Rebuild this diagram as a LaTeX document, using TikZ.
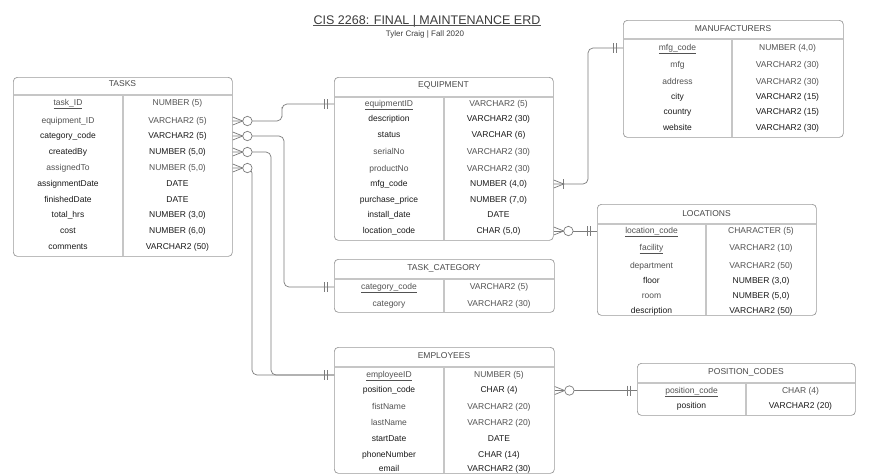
\documentclass[tikz,border=0pt]{standalone}
\usepackage{fontspec}
\setmainfont{Liberation Sans}
\definecolor{inkA}{HTML}{1A1A1A}
\definecolor{inkB}{HTML}{525252}
\definecolor{rim}{HTML}{9A9A9A}
\definecolor{wire}{HTML}{7C7C7C}
\definecolor{rulegray}{HTML}{C6C6C6}
\tikzset{
  tbl/.style={draw=rim, line width=0.7pt, rounded corners=4pt, anchor=north west, inner sep=0pt},
  tblrule/.style={draw=rulegray, line width=1.2pt},
  fld/.style={text=inkA, font=\fontsize{8.5}{10}\selectfont, inner sep=0pt, text height=6pt, text depth=2pt},
  pale/.style={text=inkB},
  hdr/.style={fld, text=inkA!80},
  rel/.style={draw=wire, line width=0.7pt, rounded corners=5pt},
  zeromany/.pic={
    \draw[rel, sharp corners] (0,-4) -- (10,0) -- (0,4);
    \draw[rel, fill=white] (14.7,0) circle (4.7pt);},
  onemany/.pic={
    \draw[rel, sharp corners] (0,-4) -- (10,0) -- (0,4);
    \draw[rel] (10,-5) -- (10,5);},
  onlyone/.pic={
    \draw[rel] (-7,-5) -- (-7,5);
    \draw[rel] (-10,-5) -- (-10,5);}
}
\begin{document}
\begin{tikzpicture}[x=1pt,y=-1pt]
        \fill[white] (0,0) rectangle (885,475);
        \useasboundingbox (0,0) rectangle (885,475);
        %Title
        \node[text=inkA!85, font=\fontsize{12.5}{14}\selectfont, inner sep=0pt, text height=9pt, text depth=1pt] (title) at (427,20.5) {CIS 2268: FINAL | MAINTENANCE ERD};
        \draw[inkA!75, line width=0.6pt] (title.south west) -- (title.south east);
        \node[text=inkA!85, font=\fontsize{8}{10}\selectfont, inner sep=0pt] (byline) at (425,34) {Tyler Craig | Fall 2020};
        %Tasks
        \node[tbl, minimum width=219pt, minimum height=179pt] (tasks) at (13,77) {};
        \draw[tblrule] (13.5,95) -- (231.5,95);
        \draw[tblrule] (123,95) -- (123,255.5);
        \node[hdr] (tasksH) at (122.5,84.5) {TASKS};
        \node[fld,pale] (tId) at (68,103) {\underline{task\_ID}};
        \node[fld,pale] (tIdT) at (177.5,103) {NUMBER (5)};
        \node[fld,pale] (tEquip) at (68,121) {equipment\_ID};
        \node[fld,pale] (tEquipT) at (177.5,121) {VARCHAR2 (5)};
        \node[fld] (tCat) at (68,136) {category\_code};
        \node[fld] (tCatT) at (177.5,136) {VARCHAR2 (5)};
        \node[fld] (tBy) at (68,152) {createdBy};
        \node[fld] (tByT) at (177.5,152) {NUMBER (5,0)};
        \node[fld,pale] (tTo) at (68,168) {assignedTo};
        \node[fld,pale] (tToT) at (177.5,168) {NUMBER (5,0)};
        \node[fld] (tAsg) at (68,184) {assignmentDate};
        \node[fld] (tAsgT) at (177.5,184) {DATE};
        \node[fld] (tFin) at (68,200) {finishedDate};
        \node[fld] (tFinT) at (177.5,200) {DATE};
        \node[fld] (tHrs) at (68,215.5) {total\_hrs};
        \node[fld] (tHrsT) at (177.5,215.5) {NUMBER (3,0)};
        \node[fld] (tCost) at (68,231.5) {cost};
        \node[fld] (tCostT) at (177.5,231.5) {NUMBER (6,0)};
        \node[fld] (tCmt) at (68,247) {comments};
        \node[fld] (tCmtT) at (177.5,247) {VARCHAR2 (50)};
        %Equipment
        \node[tbl, minimum width=219pt, minimum height=163pt] (equip) at (334,77) {};
        \draw[tblrule] (334.5,97) -- (552.5,97);
        \draw[tblrule] (444,97) -- (444,239.5);
        \node[hdr] (equipH) at (443.5,85) {EQUIPMENT};
        \node[fld,pale] (eId) at (389,104) {\underline{equipmentID}};
        \node[fld,pale] (eIdT) at (498.5,104) {VARCHAR2 (5)};
        \node[fld] (eDesc) at (389,119) {description};
        \node[fld] (eDescT) at (498.5,119) {VARCHAR2 (30)};
        \node[fld] (eStat) at (389,135) {status};
        \node[fld] (eStatT) at (498.5,135) {VARCHAR (6)};
        \node[fld,pale] (eSer) at (389,152) {serialNo};
        \node[fld,pale] (eSerT) at (498.5,152) {VARCHAR2 (30)};
        \node[fld,pale] (eProd) at (389,169) {productNo};
        \node[fld,pale] (eProdT) at (498.5,169) {VARCHAR2 (30)};
        \node[fld] (eMfg) at (389,184) {mfg\_code};
        \node[fld] (eMfgT) at (498.5,184) {NUMBER (4,0)};
        \node[fld] (ePrice) at (389,200) {purchase\_price};
        \node[fld] (ePriceT) at (498.5,200) {NUMBER (7,0)};
        \node[fld] (eInst) at (389,215) {install\_date};
        \node[fld] (eInstT) at (498.5,215) {DATE};
        \node[fld] (eLoc) at (389,231) {location\_code};
        \node[fld] (eLocT) at (498.5,231) {CHAR (5,0)};
        %Manufacturers
        \node[tbl, minimum width=220pt, minimum height=117pt] (manuf) at (623,20) {};
        \draw[tblrule] (623.5,39) -- (842.5,39);
        \draw[tblrule] (732,39) -- (732,136.5);
        \node[hdr] (manufH) at (733,29) {MANUFACTURERS};
        \node[fld,pale] (fCode) at (677.5,48) {\underline{mfg\_code}};
        \node[fld,pale] (fCodeT) at (787.5,48) {NUMBER (4,0)};
        \node[fld,pale] (fName) at (677.5,65.5) {mfg};
        \node[fld,pale] (fNameT) at (787.5,65.5) {VARCHAR2 (30)};
        \node[fld,pale] (fAddr) at (677.5,82) {address};
        \node[fld,pale] (fAddrT) at (787.5,82) {VARCHAR2 (30)};
        \node[fld] (fCity) at (677.5,97) {city};
        \node[fld] (fCityT) at (787.5,97) {VARCHAR2 (15)};
        \node[fld] (fCtry) at (677.5,112) {country};
        \node[fld] (fCtryT) at (787.5,112) {VARCHAR2 (15)};
        \node[fld] (fWeb) at (677.5,128) {website};
        \node[fld] (fWebT) at (787.5,128) {VARCHAR2 (30)};
        %Locations
        \node[tbl, minimum width=219pt, minimum height=111pt] (locs) at (597,204) {};
        \draw[tblrule] (597.5,224) -- (815.5,224);
        \draw[tblrule] (706,224) -- (706,314.5);
        \node[hdr] (locsH) at (706.5,214) {LOCATIONS};
        \node[fld,pale] (lCode) at (651.5,231) {\underline{location\_code}};
        \node[fld,pale] (lCodeT) at (761,231) {CHARACTER (5)};
        \node[fld,pale] (lFac) at (651.5,248.5) {\underline{facility}};
        \node[fld,pale] (lFacT) at (761,248.5) {VARCHAR2 (10)};
        \node[fld,pale] (lDept) at (651.5,266) {department};
        \node[fld,pale] (lDeptT) at (761,266) {VARCHAR2 (50)};
        \node[fld] (lFloor) at (651.5,281) {floor};
        \node[fld] (lFloorT) at (761,281) {NUMBER (3,0)};
        \node[fld,pale] (lRoom) at (651.5,296.5) {room};
        \node[fld] (lRoomT) at (761,296.5) {NUMBER (5,0)};
        \node[fld] (lDesc) at (651.5,311) {description};
        \node[fld] (lDescT) at (761,311) {VARCHAR2 (50)};
        %Task category
        \node[tbl, minimum width=220pt, minimum height=53pt] (tcat) at (334,259) {};
        \draw[tblrule] (334.5,279) -- (553.5,279);
        \draw[tblrule] (444,279) -- (444,311.5);
        \node[hdr] (tcatH) at (444,268.5) {TASK\_CATEGORY};
        \node[fld,pale] (cCode) at (389,287) {\underline{category\_code}};
        \node[fld,pale] (cCodeT) at (499,287) {VARCHAR2 (5)};
        \node[fld,pale] (cName) at (389,304) {category};
        \node[fld,pale] (cNameT) at (499,304) {VARCHAR2 (30)};
        %Employees
        \node[tbl, minimum width=220pt, minimum height=126pt] (emps) at (334,347) {};
        \draw[tblrule] (334.5,367) -- (553.5,367);
        \draw[tblrule] (444,367) -- (444,472.5);
        \node[hdr] (empsH) at (444,356.5) {EMPLOYEES};
        \node[fld,pale] (mId) at (389,375) {\underline{employeeID}};
        \node[fld,pale] (mIdT) at (499,375) {NUMBER (5)};
        \node[fld] (mPos) at (389,390.5) {position\_code};
        \node[fld] (mPosT) at (499,390.5) {CHAR (4)};
        \node[fld,pale] (mFirst) at (389,407) {fistName};
        \node[fld,pale] (mFirstT) at (499,407) {VARCHAR2 (20)};
        \node[fld,pale] (mLast) at (389,423.5) {lastName};
        \node[fld,pale] (mLastT) at (499,423.5) {VARCHAR2 (20)};
        \node[fld] (mStart) at (389,439) {startDate};
        \node[fld] (mStartT) at (499,439) {DATE};
        \node[fld] (mPhone) at (389,455) {phoneNumber};
        \node[fld] (mPhoneT) at (499,455) {CHAR (14)};
        \node[fld] (mMail) at (389,469) {email};
        \node[fld] (mMailT) at (499,469) {VARCHAR2 (30)};
        %Position codes
        \node[tbl, minimum width=218pt, minimum height=52pt] (posc) at (637,363) {};
        \draw[tblrule] (637.5,383) -- (854.5,383);
        \draw[tblrule] (746,383) -- (746,414.5);
        \node[hdr] (poscH) at (746,372.5) {POSITION\_CODES};
        \node[fld,pale] (pCode) at (691.5,391) {\underline{position\_code}};
        \node[fld,pale] (pCodeT) at (800.5,391) {CHAR (4)};
        \node[fld] (pName) at (691.5,406) {position};
        \node[fld] (pNameT) at (800.5,406) {VARCHAR2 (20)};
        %Tasks to Equipment
        \coordinate (jogA) at (282,112);
        \draw[rel] (tasks.east |- tEquip) -| (jogA) |- (equip.west |- eId);
        %Tasks to Task category
        \coordinate (jogB) at (284,200);
        \draw[rel] (tasks.east |- tCat) -| (jogB) |- (tcat.west |- cCode);
        %Tasks to Employees
        \coordinate (jogC) at (271,300);
        \coordinate (jogD) at (252,300);
        \draw[rel] (tasks.east |- tBy) -| (jogC) |- (emps.west |- mId);
        \draw[rel] (tasks.east |- tTo) -| (jogD) |- (emps.west |- mId);
        %Equipment to Manufacturers
        \coordinate (jogE) at (588,100);
        \draw[rel] (equip.east |- eMfg) -| (jogE) |- (manuf.west |- fCode);
        %Equipment to Locations
        \draw[rel] (equip.east |- eLoc) -- (locs.west |- eLoc);
        %Employees to Position codes
        \draw[rel] (emps.east |- mPos) -- (posc.west |- mPos);
        %Ends
        \pic at (tasks.east |- tEquip) {zeromany};
        \pic at (tasks.east |- tCat) {zeromany};
        \pic at (tasks.east |- tBy) {zeromany};
        \pic at (tasks.east |- tTo) {zeromany};
        \pic at (equip.east |- eLoc) {zeromany};
        \pic at (emps.east |- mPos) {zeromany};
        \pic at (equip.east |- eMfg) {onemany};
        \pic at (equip.west |- eId) {onlyone};
        \pic at (tcat.west |- cCode) {onlyone};
        \pic at (emps.west |- mId) {onlyone};
        \pic at (manuf.west |- fCode) {onlyone};
        \pic at (locs.west |- eLoc) {onlyone};
        \pic at (posc.west |- mPos) {onlyone};
    \end{tikzpicture}
\end{document}
